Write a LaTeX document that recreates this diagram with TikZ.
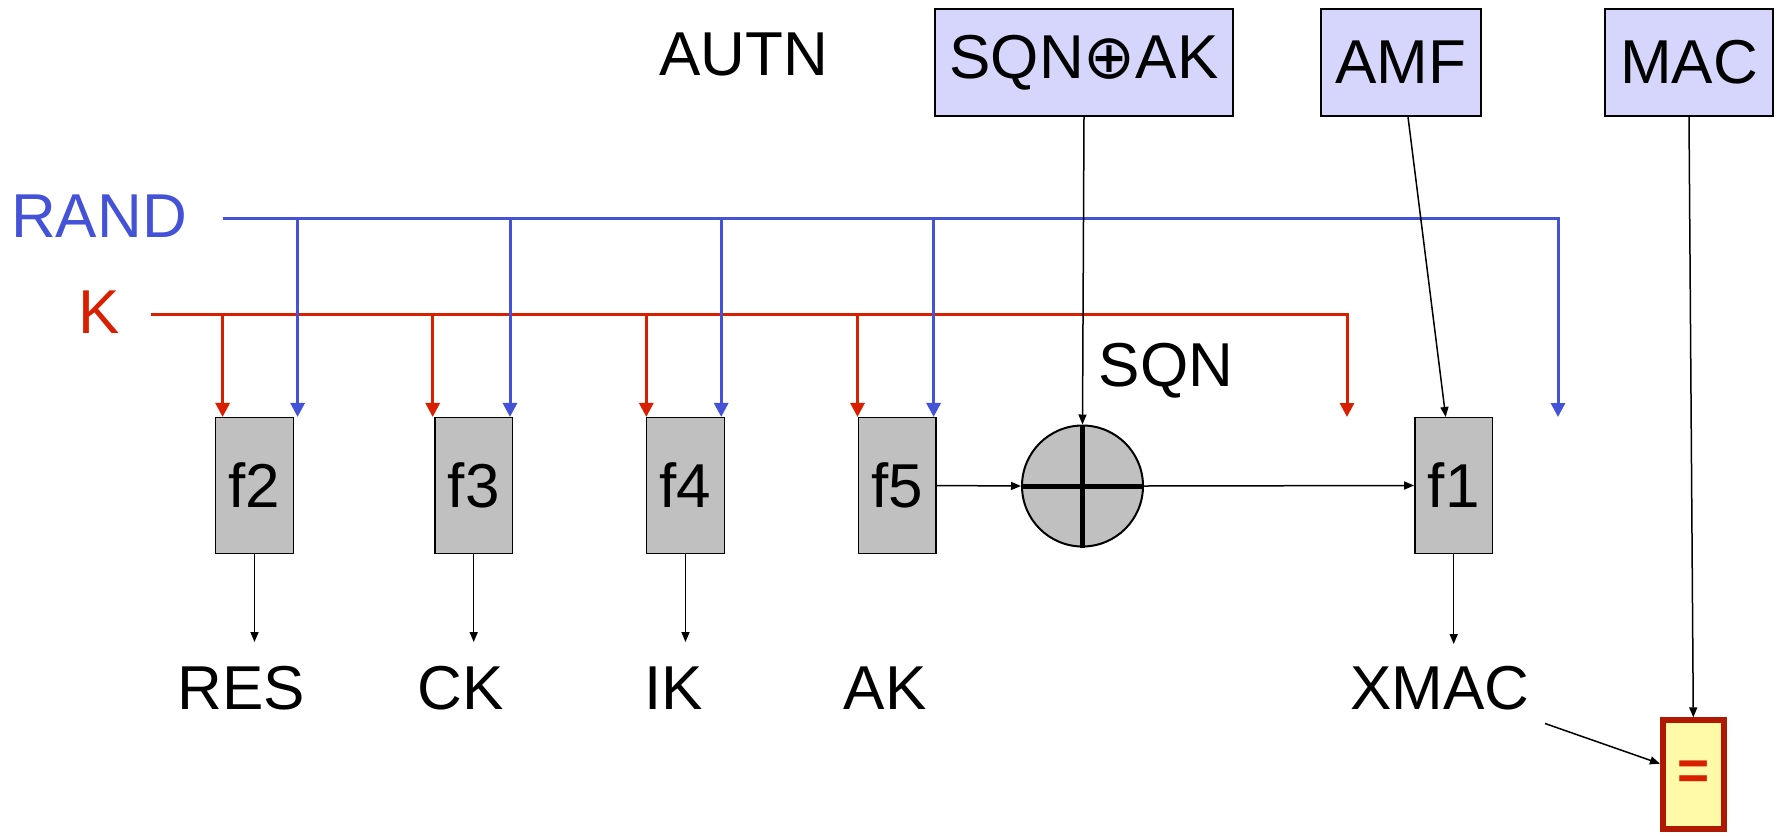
\documentclass[tikz,border=0pt]{standalone}
\usepackage{fontspec}
\setmainfont{Liberation Sans}
\newfontfamily\dvfont{DejaVu Sans}
\usetikzlibrary{arrows.meta,shadows}
\definecolor{kred}{RGB}{216,32,0}
\definecolor{rblue}{RGB}{68,82,216}
\definecolor{fgray}{RGB}{192,192,192}
\definecolor{lav}{RGB}{214,214,252}
\definecolor{eqfill}{RGB}{255,250,168}
\definecolor{eqborder}{RGB}{176,24,0}
\tikzset{
  every node/.style={font=\fontsize{62}{70}\selectfont},
  fn/.style={draw=black, line width=1.5pt, fill=fgray, minimum width=77.6pt, minimum height=135.6pt, inner sep=0pt},
  topbox/.style={draw=black, line width=1.8pt, fill=lav, minimum height=107pt, inner sep=0pt},
  lbl/.style={inner sep=0pt},
  rarr/.style={draw=kred, line width=3pt, line join=miter, -{Triangle[width=14pt,length=14pt]}},
  barr/.style={draw=rblue, line width=3pt, line join=miter, -{Triangle[width=14pt,length=14pt]}},
  karr/.style={draw=black, line width=1.5pt, -{Triangle[width=8pt,length=10pt]}}
}
\begin{document}
\begin{tikzpicture}[x=1pt,y=-1pt]
\useasboundingbox (0,0) rectangle (1781,836);
% top boxes
\node[lbl] (autn) at (744,54.5) {AUTN};
\node[topbox, minimum width=298.5pt] (sqnak) at (1084,62.5) {SQN{\dvfont ⊕}AK};
\node[topbox, minimum width=160pt] (amf) at (1401,62.5) {AMF};
\node[topbox, minimum width=168pt] (mac) at (1689,62.5) {MAC};
% input labels
\node[lbl, text=rblue] (rand) at (99,216) {RAND};
\node[lbl, text=kred] (k) at (99.5,312) {K};
\node[lbl] (sqn) at (1166,371) {SQN};
% function boxes
\node[fn] (f2) at (254.5,485.5) {f2};
\node[fn] (f3) at (473.7,485.5) {f3};
\node[fn] (f4) at (685.5,485.5) {f4};
\node[fn] (f5) at (897.3,485.5) {f5};
\node[fn] (f1) at (1453.7,485.5) {f1};
% xor
\node[circle, draw=black, line width=2pt, fill=fgray, minimum size=121pt, inner sep=0pt] (x) at (1082.5,486) {};
\draw[line width=5pt] (x.north) -- (x.south);
\draw[line width=5pt] (x.west) -- (x.east);
% output labels
\node[lbl] (res) at (241,688) {RES};
\node[lbl] (ck) at (461,688) {CK};
\node[lbl] (ik) at (673.5,688) {IK};
\node[lbl] (ak) at (885,688) {AK};
\node[lbl] (xmac) at (1440,688) {XMAC};
% equality box
\node[draw=eqborder, line width=6pt, fill=eqfill, minimum width=60.7pt, minimum height=108.7pt, inner sep=0pt,
  drop shadow={opacity=0.35, shadow xshift=3pt, shadow yshift=-3pt},
  text=kred, font=\fontsize{55}{60}\selectfont\bfseries] (eq) at (1693.3,774.7) {=};
% rails
\coordinate (Rs) at (222.6,218);
\coordinate (Re) at (1558,218);
\coordinate (Rin) at (1558,417);
\coordinate (Ks) at (151,314);
\coordinate (Ke) at (1347,314);
\coordinate (Kin) at (1347,417);
\draw[barr] (Rs) -- (Re) -- (Rin);
\draw[rarr] (Ks) -- (Ke) -- (Kin);
\foreach \f/\rx/\bx in {f2/222.6/297.6, f3/432.7/510, f4/646.3/721.2, f5/857.5/933.6} {
  \draw[rarr] (\rx,314) -- (\rx,0 |- \f.north);
  \draw[barr] (\bx,218) -- (\bx,0 |- \f.north);
}
% black connectors
\draw[karr] (f2.south) -- (f2.south |- 0,642);
\draw[karr] (f3.south) -- (f3.south |- 0,642);
\draw[karr] (f4.south) -- (f4.south |- 0,642);
\draw[karr] (f5.east) -- (x.west);
\draw[karr] (x.east) -- (f1.west);
\draw[karr] (f1.south) -- (f1.south |- 0,644);
\draw[karr] (sqnak.south) -- (x.north);
\draw[karr] ([xshift=7pt]amf.south) -- ([xshift=-8pt]f1.north);
\draw[karr] (mac.south) -- (eq.north);
\coordinate (xm) at (1545,723.5);
\draw[karr] (xm) -- ([yshift=11pt]eq.west);
\end{tikzpicture}
\end{document}
